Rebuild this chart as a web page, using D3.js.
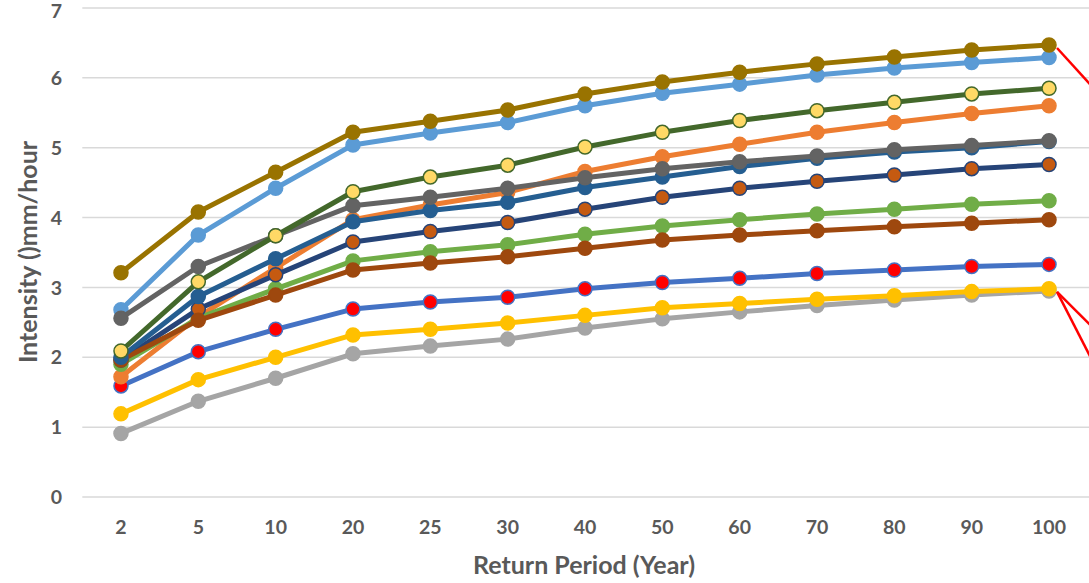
<!DOCTYPE html>
<html>
<head>
<meta charset="utf-8">
<script src="https://cdn.jsdelivr.net/npm/d3@7"></script>
<style>
  html, body { margin: 0; padding: 0; background: #fff; }
  svg { display: block; }
  text { font-family: Lato, "Open Sans", sans-serif; font-weight: bold; fill: #595959; }
</style>
</head>
<body>
<svg id="chart" width="1089" height="583"></svg>
<script>
// ---- data ----
const categories = ["2", "5", "10", "20", "25", "30", "40", "50", "60", "70", "80", "90", "100"];
const yTicks = [0, 1, 2, 3, 4, 5, 6, 7];

const blueRed    = [1.59, 2.08, 2.40, 2.69, 2.79, 2.86, 2.98, 3.07, 3.13, 3.20, 3.25, 3.30, 3.33];
const orange     = [1.72, 2.58, 3.28, 3.97, 4.18, 4.36, 4.66, 4.87, 5.05, 5.22, 5.36, 5.49, 5.60];
const lightGray  = [0.91, 1.37, 1.70, 2.05, 2.16, 2.26, 2.42, 2.55, 2.65, 2.74, 2.82, 2.89, 2.95];
const yellow     = [1.19, 1.68, 2.00, 2.32, 2.40, 2.49, 2.60, 2.71, 2.77, 2.83, 2.88, 2.94, 2.98];
const lightBlue  = [2.68, 3.75, 4.42, 5.04, 5.21, 5.36, 5.60, 5.78, 5.91, 6.04, 6.14, 6.22, 6.29];
const green      = [1.90, 2.56, 2.98, 3.38, 3.51, 3.61, 3.76, 3.88, 3.97, 4.05, 4.12, 4.19, 4.24];
const navy       = [1.96, 2.69, 3.18, 3.65, 3.80, 3.93, 4.12, 4.29, 4.42, 4.52, 4.61, 4.70, 4.76];
const brown      = [1.96, 2.53, 2.89, 3.25, 3.35, 3.44, 3.56, 3.68, 3.75, 3.81, 3.87, 3.92, 3.97];
const darkGray   = [2.56, 3.30, 3.74, 4.17, 4.29, 4.42, 4.57, 4.70, 4.80, 4.88, 4.97, 5.03, 5.10];
const gold       = [3.21, 4.08, 4.65, 5.22, 5.38, 5.54, 5.77, 5.94, 6.08, 6.20, 6.30, 6.40, 6.47];
const midBlue    = [2.00, 2.87, 3.41, 3.94, 4.10, 4.22, 4.43, 4.58, 4.73, 4.85, 4.94, 5.00, 5.09];
const darkGreen  = [2.09, 3.08, 3.74, 4.37, 4.58, 4.75, 5.01, 5.22, 5.39, 5.53, 5.65, 5.77, 5.85];

const seriesList = [
  { values: blueRed,   line: "#4472C4", fill: "#FF0000", stroke: "#4472C4" },
  { values: orange,    line: "#ED7D31", fill: "#ED7D31", stroke: "#ED7D31" },
  { values: lightGray, line: "#A5A5A5", fill: "#A5A5A5", stroke: "#A5A5A5" },
  { values: yellow,    line: "#FFC000", fill: "#FFC000", stroke: "#FFC000" },
  { values: lightBlue, line: "#5B9BD5", fill: "#5B9BD5", stroke: "#5B9BD5" },
  { values: green,     line: "#70AD47", fill: "#70AD47", stroke: "#70AD47" },
  { values: navy,      line: "#264478", fill: "#C55A11", stroke: "#264478" },
  { values: brown,     line: "#9E480E", fill: "#9E480E", stroke: "#9E480E" },
  { values: midBlue,   line: "#255E91", fill: "#255E91", stroke: "#255E91" },
  { values: darkGray,  line: "#636363", fill: "#636363", stroke: "#636363" },
  { values: gold,      line: "#997300", fill: "#997300", stroke: "#997300" },
  { values: darkGreen, line: "#43682B", fill: "#FFD966", stroke: "#43682B" }
];

// ---- layout ----
const svg = d3.select("#chart");
const plot = { left: 82.3, right: 1087.7, top: 8, bottom: 497 };

const x = d3.scaleBand().domain(categories).range([plot.left, plot.right]).paddingInner(0).paddingOuter(0);
const y = d3.scaleLinear().domain([0, 7]).range([plot.bottom, plot.top]);
const cx = c => x(c) + x.bandwidth() / 2;

const tickFont = 19.5;

// gridlines
svg.append("g")
  .selectAll("line")
  .data(yTicks)
  .join("line")
  .attr("x1", plot.left)
  .attr("x2", 1089)
  .attr("y1", d => y(d))
  .attr("y2", d => y(d))
  .attr("stroke", "#D9D9D9")
  .attr("stroke-width", 1.5);

// y axis labels
const yAxis = d3.axisLeft(y).tickValues(yTicks).tickSize(0).tickPadding(0).tickFormat(d3.format("d"));
const gy = svg.append("g").attr("transform", `translate(${62},0)`).call(yAxis);
gy.select(".domain").remove();
gy.selectAll("text")
  .attr("font-size", tickFont)
  .attr("dy", d => d === 7 ? "0.5em" : "0.34em")
  .style("font-family", "Lato, 'Open Sans', sans-serif").style("font-weight", "bold").attr("fill", "#595959");

// x axis labels
const xAxis = d3.axisBottom(x).tickSize(0).tickPadding(0);
const gx = svg.append("g").attr("transform", `translate(0,${plot.bottom + 23})`).call(xAxis);
gx.select(".domain").remove();
gx.selectAll("text").attr("font-size", tickFont).style("font-family", "Lato, 'Open Sans', sans-serif").style("font-weight", "bold").attr("fill", "#595959");

// axis titles
svg.append("text")
  .attr("x", 584)
  .attr("y", 574)
  .attr("text-anchor", "middle")
  .attr("font-size", 25)
  .text("Return Period (Year)");

svg.append("text")
  .attr("transform", `translate(37,${252}) rotate(-90)`)
  .attr("text-anchor", "middle")
  .attr("font-size", 25)
  .text("Intensity ()mm/hour");

// series
const lineGen = d3.line().x((d, i) => cx(categories[i])).y(d => y(d));
const gSeries = svg.append("g");
seriesList.forEach(s => {
  const g = gSeries.append("g");
  g.append("path")
    .attr("d", lineGen(s.values))
    .attr("fill", "none")
    .attr("stroke", s.line)
    .attr("stroke-width", 5)
    .attr("stroke-linejoin", "round")
    .attr("stroke-linecap", "round");
  g.selectAll("circle")
    .data(s.values)
    .join("circle")
    .attr("cx", (d, i) => cx(categories[i]))
    .attr("cy", d => y(d))
    .attr("r", 7)
    .attr("fill", s.fill)
    .attr("stroke", s.stroke)
    .attr("stroke-width", 1.5);
});

// red annotation pointers (leaving the plot to the right)
const last = categories[categories.length - 1];
const pointers = [
  { from: gold[gold.length - 1],     dx: 40, dy: 44 },
  { from: yellow[yellow.length - 1], dx: 40, dy: 40 },
  { from: yellow[yellow.length - 1], dx: 40, dy: 78 }
];
svg.append("g")
  .selectAll("line")
  .data(pointers)
  .join("line")
  .attr("x1", cx(last) + 8)
  .attr("y1", d => y(d.from) + 3)
  .attr("x2", d => cx(last) + 8 + d.dx)
  .attr("y2", d => y(d.from) + 3 + d.dy)
  .attr("stroke", "#FF0000")
  .attr("stroke-width", 2.5);
</script>
</body>
</html>
